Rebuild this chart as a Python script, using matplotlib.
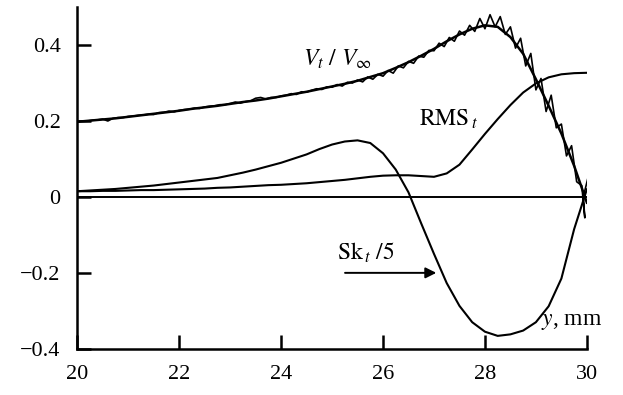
import matplotlib
matplotlib.use('Agg')
import matplotlib.pyplot as plt

plt.rcParams['font.family'] = ['Liberation Serif', 'DejaVu Serif']
plt.rcParams['mathtext.fontset'] = 'stix'

# smooth curves, y in mm
y_mm = [20.0, 20.25, 20.5, 20.75, 21.0, 21.25, 21.5, 21.75, 22.0, 22.25,
        22.5, 22.75, 23.0, 23.25, 23.5, 23.75, 24.0, 24.25, 24.5, 24.75,
        25.0, 25.25, 25.5, 25.75, 26.0, 26.25, 26.5, 26.75, 27.0, 27.25,
        27.5, 27.75, 28.0, 28.25, 28.5, 28.75, 29.0, 29.25, 29.5, 29.75, 30.0]

v_mean = [0.198, 0.201, 0.204, 0.207, 0.211, 0.215, 0.219, 0.223, 0.227, 0.232,
          0.236, 0.240, 0.245, 0.250, 0.254, 0.259, 0.265, 0.271, 0.277, 0.284,
          0.291, 0.298, 0.306, 0.316, 0.326, 0.340, 0.355, 0.372, 0.390, 0.410,
          0.428, 0.443, 0.452, 0.448, 0.421, 0.377, 0.310, 0.240, 0.167, 0.082, -0.015]

rms = [0.015, 0.015, 0.016, 0.016, 0.017, 0.018, 0.018, 0.019, 0.020, 0.021,
       0.022, 0.024, 0.025, 0.027, 0.029, 0.031, 0.032, 0.034, 0.036, 0.039,
       0.042, 0.045, 0.049, 0.053, 0.056, 0.057, 0.057, 0.055, 0.053, 0.062,
       0.085, 0.125, 0.166, 0.205, 0.242, 0.275, 0.299, 0.315, 0.323, 0.326, 0.327]

sk5 = [0.015, 0.017, 0.019, 0.021, 0.024, 0.027, 0.030, 0.034, 0.038, 0.042,
       0.046, 0.050, 0.057, 0.064, 0.072, 0.081, 0.090, 0.101, 0.112, 0.126,
       0.138, 0.146, 0.149, 0.142, 0.115, 0.072, 0.012, -0.070, -0.150, -0.227,
       -0.287, -0.330, -0.355, -0.366, -0.362, -0.352, -0.330, -0.288, -0.215, -0.085, 0.020]

# measured (noisy) V_t / V_inf
y_raw = [20.0, 20.1, 20.2, 20.3, 20.4, 20.5, 20.6, 20.7, 20.8, 20.9,
         21.0, 21.1, 21.2, 21.3, 21.4, 21.5, 21.6, 21.7, 21.8, 21.9,
         22.0, 22.1, 22.2, 22.3, 22.4, 22.5, 22.6, 22.7, 22.8, 22.9,
         23.0, 23.1, 23.2, 23.3, 23.4, 23.5, 23.6, 23.7, 23.8, 23.9,
         24.0, 24.1, 24.2, 24.3, 24.4, 24.5, 24.6, 24.7, 24.8, 24.9,
         25.0, 25.1, 25.2, 25.3, 25.4, 25.5, 25.6, 25.7, 25.8, 25.9,
         26.0, 26.1, 26.2, 26.3, 26.4, 26.5, 26.6, 26.7, 26.8, 26.9,
         27.0, 27.1, 27.2, 27.3, 27.4, 27.5, 27.6, 27.7, 27.8, 27.9,
         28.0, 28.1, 28.2, 28.3, 28.4, 28.5, 28.6, 28.7, 28.8, 28.9,
         29.0, 29.1, 29.2, 29.3, 29.4, 29.5, 29.6, 29.7, 29.8, 29.9,
         29.96, 29.93, 30.03]

v_raw = [0.198, 0.200, 0.200, 0.202, 0.203, 0.205, 0.200, 0.207, 0.209, 0.209,
         0.212, 0.213, 0.215, 0.216, 0.218, 0.217, 0.222, 0.223, 0.226, 0.224,
         0.228, 0.230, 0.231, 0.234, 0.233, 0.237, 0.239, 0.240, 0.243, 0.243,
         0.246, 0.250, 0.247, 0.251, 0.253, 0.260, 0.262, 0.258, 0.262, 0.262,
         0.266, 0.268, 0.272, 0.270, 0.277, 0.276, 0.281, 0.285, 0.283, 0.290,
         0.289, 0.296, 0.292, 0.302, 0.300, 0.308, 0.303, 0.316, 0.310, 0.323,
         0.318, 0.333, 0.326, 0.345, 0.340, 0.357, 0.352, 0.371, 0.368, 0.386,
         0.385, 0.405, 0.396, 0.420, 0.410, 0.437, 0.426, 0.452, 0.436, 0.470,
         0.443, 0.480, 0.448, 0.475, 0.428, 0.448, 0.392, 0.418, 0.345, 0.378,
         0.282, 0.312, 0.225, 0.268, 0.182, 0.192, 0.108, 0.135, 0.040, 0.030,
         -0.055, 0.000, 0.055]

fig = plt.figure(figsize=(6.23, 3.95), dpi=100)
ax = fig.add_axes([0.124, 0.117, 0.818, 0.865])

ax.axhline(0, color='black', lw=1.4)
ax.plot(y_raw, v_raw, color='black', lw=1.2)
ax.plot(y_mm, v_mean, color='black', lw=1.8)
ax.plot(y_mm, rms, color='black', lw=1.5)
ax.plot(y_mm, sk5, color='black', lw=1.5)

ax.text(24.42, 0.362, r'$V_t\ /\ V_\infty$', fontsize=17, va='center', ha='left')
ax.text(26.7, 0.205, r'$\mathrm{RMS}_{\,t}$', fontsize=17, va='center', ha='left')
ax.text(25.1, -0.148, r'$\mathrm{Sk}_{\,t}\ /5$', fontsize=17, va='center', ha='left')
ax.text(29.1, -0.327, r'$y$, mm', fontsize=17, va='center', ha='left')
ax.annotate('', xy=(27.1, -0.2), xytext=(25.2, -0.2),
            arrowprops=dict(arrowstyle='-|>', color='black', lw=1.4, mutation_scale=16))

ax.set_xlim(20, 30)
ax.set_ylim(-0.4, 0.5)
ax.set_xticks([20, 22, 24, 26, 28, 30])
ax.set_yticks([-0.4, -0.2, 0, 0.2, 0.4])
ax.set_yticklabels(['\u22120.4', '\u22120.2', '0', '0.2', '0.4'])
ax.tick_params(direction='in', length=10, width=1.8, labelsize=16, pad=12)
for side in ['top', 'right']:
    ax.spines[side].set_visible(False)
for side in ['left', 'bottom']:
    ax.spines[side].set_linewidth(1.8)

plt.savefig('out.png', dpi=100)
